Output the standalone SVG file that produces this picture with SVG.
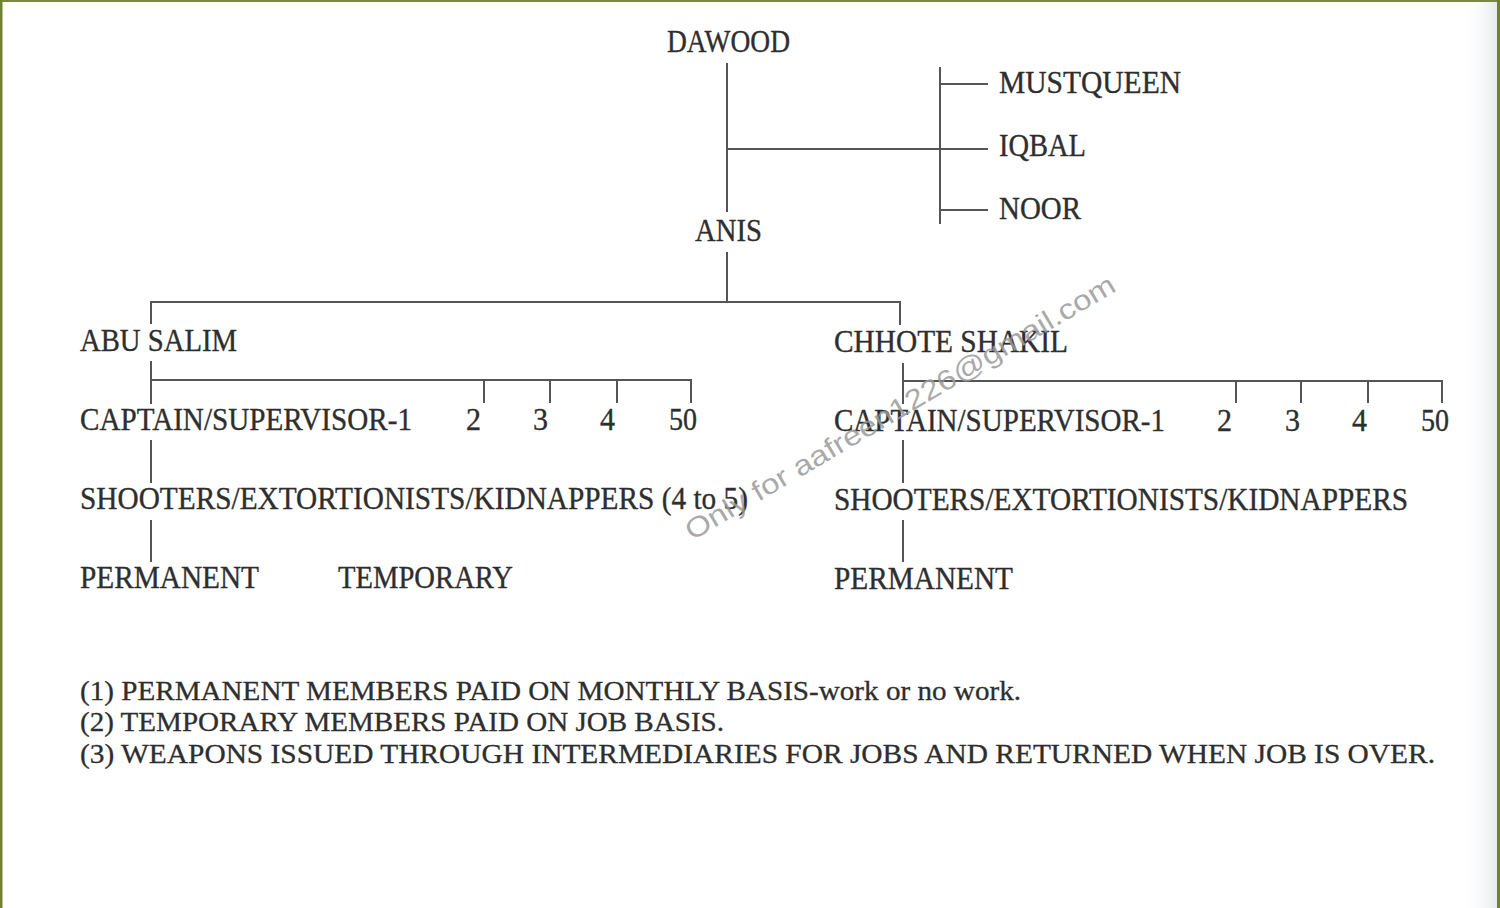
<svg xmlns="http://www.w3.org/2000/svg" width="1500" height="908" viewBox="0 0 1500 908">
<defs>
<linearGradient id="edge" x1="0" y1="0" x2="1" y2="0">
<stop offset="0" stop-color="#ffffff" stop-opacity="0"/>
<stop offset="1" stop-color="#e6e8ea"/>
</linearGradient>
<style>
.t{font-family:"Liberation Serif","Times New Roman",serif;font-size:31px;fill:#2e2e2e;stroke:#2e2e2e;stroke-width:0.35;}
.n{font-family:"Liberation Serif","Times New Roman",serif;font-size:28px;fill:#2e2e2e;stroke:#2e2e2e;stroke-width:0.3;}
.c line{stroke:#555;stroke-width:2;}
.wm{font-family:"Liberation Sans",Arial,sans-serif;font-size:28px;fill:#9a9a9a;fill-opacity:0.85;}
</style>
</defs>
<rect width="1500" height="908" fill="#ffffff"/>
<rect x="1462" y="0" width="36" height="908" fill="url(#edge)"/>
<rect x="0" y="0" width="1500" height="2" fill="#7a8a3a"/>
<rect x="0" y="0" width="2.5" height="908" fill="#6f8135"/>
<rect x="1497" y="0" width="3" height="908" fill="#6f8135"/>

<g id="connectors" class="c">
<line x1="727" y1="63" x2="727" y2="212"/>
<line x1="727" y1="149" x2="988" y2="149"/>
<line x1="940" y1="67" x2="940" y2="224"/>
<line x1="940" y1="84" x2="988" y2="84"/>
<line x1="940" y1="210" x2="988" y2="210"/>
<line x1="727" y1="252" x2="727" y2="302"/>
<line x1="151" y1="302" x2="901" y2="302"/>
<line x1="151" y1="301" x2="151" y2="324"/>
<line x1="900" y1="301" x2="900" y2="325"/>
<line x1="151" y1="361" x2="151" y2="404"/>
<line x1="151" y1="380" x2="691" y2="380"/>
<line x1="484" y1="380" x2="484" y2="403"/>
<line x1="550" y1="380" x2="550" y2="403"/>
<line x1="617" y1="380" x2="617" y2="403"/>
<line x1="691" y1="379" x2="691" y2="403"/>
<line x1="151" y1="440" x2="151" y2="483"/>
<line x1="151" y1="520" x2="151" y2="562"/>
<line x1="903" y1="363" x2="903" y2="404"/>
<line x1="903" y1="381" x2="1442" y2="381"/>
<line x1="1236" y1="381" x2="1236" y2="403"/>
<line x1="1301" y1="381" x2="1301" y2="403"/>
<line x1="1368" y1="381" x2="1368" y2="403"/>
<line x1="1442" y1="380" x2="1442" y2="403"/>
<line x1="903" y1="440" x2="903" y2="483"/>
<line x1="903" y1="520" x2="903" y2="562"/>
</g>

<g id="dawood"><text class="t" x="667" y="52" textLength="123" lengthAdjust="spacingAndGlyphs">DAWOOD</text></g>
<g id="mustqueen"><text class="t" x="999" y="93" textLength="182" lengthAdjust="spacingAndGlyphs">MUSTQUEEN</text></g>
<g id="iqbal"><text class="t" x="999" y="156" textLength="87" lengthAdjust="spacingAndGlyphs">IQBAL</text></g>
<g id="noor"><text class="t" x="999" y="219" textLength="82" lengthAdjust="spacingAndGlyphs">NOOR</text></g>
<g id="anis"><text class="t" x="695" y="241" textLength="67" lengthAdjust="spacingAndGlyphs">ANIS</text></g>

<g id="abu-salim"><text class="t" x="80" y="351" textLength="157" lengthAdjust="spacingAndGlyphs">ABU SALIM</text></g>
<g id="left-captain1"><text class="t" x="80" y="430" textLength="332" lengthAdjust="spacingAndGlyphs">CAPTAIN/SUPERVISOR-1</text></g>
<g id="left-2"><text class="t" x="466" y="430" textLength="15" lengthAdjust="spacingAndGlyphs">2</text></g>
<g id="left-3"><text class="t" x="533" y="430" textLength="15" lengthAdjust="spacingAndGlyphs">3</text></g>
<g id="left-4"><text class="t" x="600" y="430" textLength="15" lengthAdjust="spacingAndGlyphs">4</text></g>
<g id="left-50"><text class="t" x="669" y="430" textLength="28" lengthAdjust="spacingAndGlyphs">50</text></g>
<g id="left-shooters"><text class="t" x="80" y="509" textLength="668" lengthAdjust="spacingAndGlyphs">SHOOTERS/EXTORTIONISTS/KIDNAPPERS (4 to 5)</text></g>
<g id="left-permanent"><text class="t" x="80" y="588" textLength="179" lengthAdjust="spacingAndGlyphs">PERMANENT</text></g>
<g id="left-temporary"><text class="t" x="338" y="588" textLength="175" lengthAdjust="spacingAndGlyphs">TEMPORARY</text></g>

<g id="chhote-shakil"><text class="t" x="834" y="352" textLength="234" lengthAdjust="spacingAndGlyphs">CHHOTE SHAKIL</text></g>
<g id="right-captain1"><text class="t" x="834" y="431" textLength="331" lengthAdjust="spacingAndGlyphs">CAPTAIN/SUPERVISOR-1</text></g>
<g id="right-2"><text class="t" x="1217" y="431" textLength="15" lengthAdjust="spacingAndGlyphs">2</text></g>
<g id="right-3"><text class="t" x="1285" y="431" textLength="15" lengthAdjust="spacingAndGlyphs">3</text></g>
<g id="right-4"><text class="t" x="1352" y="431" textLength="15" lengthAdjust="spacingAndGlyphs">4</text></g>
<g id="right-50"><text class="t" x="1421" y="431" textLength="28" lengthAdjust="spacingAndGlyphs">50</text></g>
<g id="right-shooters"><text class="t" x="834" y="510" textLength="574" lengthAdjust="spacingAndGlyphs">SHOOTERS/EXTORTIONISTS/KIDNAPPERS</text></g>
<g id="right-permanent"><text class="t" x="834" y="589" textLength="179" lengthAdjust="spacingAndGlyphs">PERMANENT</text></g>

<g id="notes">
<text class="n" x="80" y="700" textLength="941" lengthAdjust="spacingAndGlyphs">(1) PERMANENT MEMBERS PAID ON MONTHLY BASIS-work or no work.</text>
<text class="n" x="80" y="731" textLength="644" lengthAdjust="spacingAndGlyphs">(2) TEMPORARY MEMBERS PAID ON JOB BASIS.</text>
<text class="n" x="80" y="763" textLength="1355" lengthAdjust="spacingAndGlyphs">(3) WEAPONS ISSUED THROUGH INTERMEDIARIES FOR JOBS AND RETURNED WHEN JOB IS OVER.</text>
</g>

<text class="wm" transform="translate(692,541) rotate(-30.5)" textLength="494" lengthAdjust="spacingAndGlyphs">Only for aafreen1226@gmail.com</text>
</svg>
